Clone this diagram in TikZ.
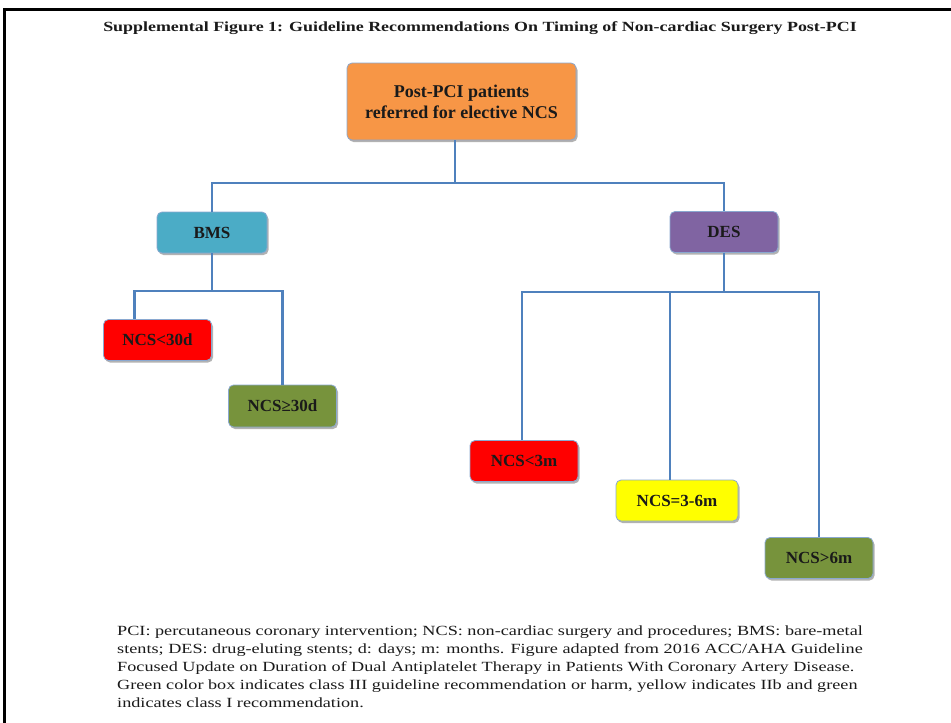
\documentclass[tikz,border=0pt]{standalone}
\usepackage{fontspec}
\setmainfont{Liberation Serif}
\newfontfamily\titlefont[FakeStretch=1.28]{Liberation Serif}
\newfontfamily\capfont[FakeStretch=1.30]{Liberation Serif}
\usetikzlibrary{shadows}
\definecolor{conn}{HTML}{4F81BD}
\definecolor{boxedge}{HTML}{8AA8D0}
\definecolor{cOrange}{HTML}{F79646}
\definecolor{cAqua}{HTML}{4BACC6}
\definecolor{cPurple}{HTML}{8064A2}
\definecolor{cRed}{HTML}{FF0000}
\definecolor{cGreen}{HTML}{77933C}
\definecolor{cYellow}{HTML}{FFFF00}
\definecolor{ink}{HTML}{1A1A1A}
\tikzset{
  box/.style={rounded corners=5pt, draw=boxedge, line width=0.8pt, text=ink,
    font=\bfseries\fontsize{17}{19}\selectfont, inner sep=0pt,
    minimum width=108pt, minimum height=41pt,
    drop shadow={shadow xshift=1.5pt, shadow yshift=-2pt, opacity=0.3, fill=black}},
  link/.style={draw=conn, line width=2.5pt},
}
\begin{document}
\begin{tikzpicture}[x=1pt,y=-1pt]
\useasboundingbox (0,0) rectangle (951,723);
\fill[white] (0,0) rectangle (951,723);
\draw[line width=3pt] (4.5,723) -- (4.5,9.5) -- (951,9.5);

\node[font=\titlefont\bfseries\fontsize{14}{16}\selectfont, text=ink] (title) at (480,28)
  {Supplemental Figure 1: Guideline Recommendations On Timing of Non-cardiac Surgery Post-PCI};

\node[box, fill=cOrange, minimum width=229pt, minimum height=77pt, align=center,
  font=\bfseries\fontsize{18}{21}\selectfont] (root) at (461.5,101.5)
  {Post-PCI patients\\referred for elective NCS};

\node[box, fill=cAqua, minimum width=110pt] (bms) at (212,232.5) {BMS};
\node[box, fill=cPurple, minimum width=108pt] (des) at (724,232) {DES};

\node[box, fill=cRed] (lt30) at (157.5,340) {NCS<30d};
\node[box, fill=cGreen, minimum height=42pt] (ge30) at (282.5,406) {NCS≥30d};

\node[box, fill=cRed] (lt3m) at (524,461) {NCS<3m};
\node[box, fill=cYellow, minimum width=122pt] (m36) at (677,500.5) {NCS=3-6m};
\node[box, fill=cGreen] (gt6m) at (819,558) {NCS>6m};

\coordinate (j0) at (455,183);
\coordinate (j1) at (211,292);
\coordinate (j2) at (722,292);

\draw[link] (root.south -| j0) -- (j0);
\draw[link] (bms.north) |- (j0) -| (des.north);

\draw[link] (bms.south) -- (bms.south |- j1);
\draw[link] ([xshift=-23pt]lt30.north) -- ++(0,-28) -| (ge30.north);

\draw[link] (des.south) -- (des.south |- j2);
\draw[link] ([xshift=-2pt]lt3m.north) |- (j2) -| (gt6m.north);
\draw[link] ([xshift=-7pt]m36.north) -- ++(0,-188);

\node[anchor=north west, align=left, inner sep=0pt, text=ink,
  font=\capfont\fontsize{14}{18}\selectfont] (caption) at (117,626)
  {PCI: percutaneous coronary intervention; NCS: non-cardiac surgery and procedures; BMS: bare-metal\\
   stents; DES: drug-eluting stents; d: days; m: months. Figure adapted from 2016 ACC/AHA Guideline\\
   Focused Update on Duration of Dual Antiplatelet Therapy in Patients With Coronary Artery Disease.\\
   Green color box indicates class III guideline recommendation or harm, yellow indicates IIb and green\\
   indicates class I recommendation.};
\end{tikzpicture}
\end{document}
